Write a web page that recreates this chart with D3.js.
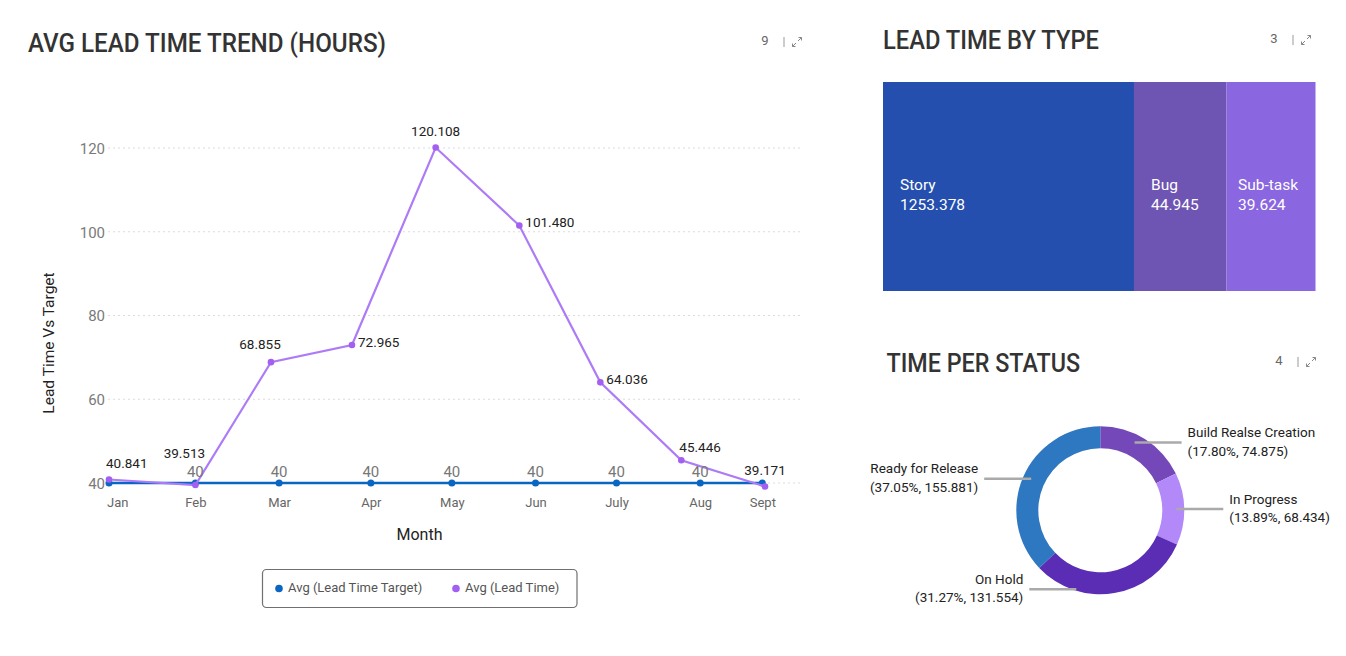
<!DOCTYPE html>
<html><head><meta charset="utf-8">
<script src="https://cdn.jsdelivr.net/npm/d3@7"></script>
<style>
html,body{margin:0;padding:0;background:#fff;}
svg{display:block;font-family:Roboto,"Noto Sans",sans-serif;}
</style></head>
<body>
<svg id="c" width="1346" height="656"></svg>
<script>
// ---------- DATA ----------
const months = ["Jan","Feb","Mar","Apr","May","Jun","July","Aug","Sept"];
const leadDates = ["2023-01-01","2023-02-02","2023-03-02","2023-04-01","2023-05-02","2023-06-02","2023-07-02","2023-08-01","2023-09-01"];
const targetDates = ["2023-01-01","2023-02-02","2023-03-05","2023-04-08","2023-05-08","2023-06-08","2023-07-08","2023-08-08","2023-08-31"];
const leadTime = [40.841,39.513,68.855,72.965,120.108,101.480,64.036,45.446,39.171];
const leadTimeTarget = [40,40,40,40,40,40,40,40,40];
const yTicks = [40,60,80,100,120];
const leadLabelPlace = ["top","topLeftHigh","topLeft","right","top","right","right","topRight","top"];
const targetLabelShown = [false,true,true,true,true,true,true,true,false];

const typeNames = ["Story","Bug","Sub-task"];
const typeValues = [1253.378,44.945,39.624];

const statusNames = ["Build Realse Creation","In Progress","On Hold","Ready for Release"];
const statusPct = [17.80,13.89,31.27,37.05];
const statusValues = [74.875,68.434,131.554,155.881];

// ---------- SETUP ----------
const svg = d3.select("#c");
const parse = d3.timeParse("%Y-%m-%d");
const C = {blue:"#0a66c2", purple:"#ad7bf7", purpleDot:"#a35ff2", grid:"#dcdcdc"};

function title(x, y, text, len){
  svg.append("text").attr("x",x).attr("y",y).text(text)
    .attr("font-size",25).attr("font-weight",500).attr("fill","#333")
    .attr("textLength",len).attr("lengthAdjust","spacingAndGlyphs");
}
function badge(x, y, n){
  svg.append("text").attr("x",x).attr("y",y).attr("dominant-baseline","middle")
    .attr("text-anchor","middle").attr("font-size",13).attr("fill","#666").text(n);
  svg.append("line").attr("x1",x+19).attr("x2",x+19).attr("y1",y-5).attr("y2",y+5)
    .attr("stroke","#999").attr("stroke-width",1);
  const ax = x+32, g = svg.append("g").attr("stroke","#888").attr("stroke-width",1).attr("fill","none");
  g.append("path").attr("d",`M${ax-4.5},${y+4.5}L${ax-1},${y+1}M${ax+1},${y-1}L${ax+4.5},${y-4.5}`);
  g.append("path").attr("d",`M${ax+1.5},${y-4.5}H${ax+4.5}V${y-1.5}M${ax-4.5},${y+1.5}V${y+4.5}H${ax-1.5}`);
}

// ---------- LEFT: LINE CHART ----------
title(28, 51.5, "AVG LEAD TIME TREND (HOURS)", 358);
badge(765, 42, "9");

const x = d3.scaleTime().domain([parse("2023-01-01"), parse("2023-09-01")]).range([109, 765]);
const y = d3.scaleLinear().domain([40,120]).range([483,148]);
const plotL = 108, plotR = 802;

svg.append("g").selectAll("line").data(yTicks).join("line")
  .attr("x1",plotL).attr("x2",plotR).attr("y1",d=>y(d)).attr("y2",d=>y(d))
  .attr("stroke",C.grid).attr("stroke-width",1).attr("stroke-dasharray","2,3");
const yAxis = d3.axisLeft(y).tickValues(yTicks).tickSize(0).tickPadding(0);
const yg = svg.append("g").attr("transform",`translate(105,0)`).call(yAxis);
yg.select(".domain").remove();
yg.selectAll("text").attr("font-size",15).attr("fill","#7a7a7a").attr("font-family","Roboto").attr("dy","0.35em");

const tDates = targetDates.map(parse), lDates = leadDates.map(parse);
const xAxis = d3.axisBottom(x).tickValues(tDates).tickFormat((d,i)=>months[i]).tickSize(0).tickPadding(0);
const xg = svg.append("g").attr("transform","translate(0,502)").call(xAxis);
xg.select(".domain").remove();
xg.selectAll("text").attr("font-size",13).attr("fill","#666").attr("font-family","Roboto").attr("dy","0.35em")
  .each(function(){
    const w = this.getComputedTextLength();
    const tr = d3.select(this.parentNode).attr("transform");
    const px = +tr.match(/translate\(([-\d.]+)/)[1];
    if (px - w/2 < 107) d3.select(this).attr("dx", (107 - (px - w/2)));
  });

svg.append("text").attr("transform","translate(50,343) rotate(-90)").attr("text-anchor","middle")
  .attr("dominant-baseline","middle").attr("font-size",15.5).attr("fill","#222").text("Lead Time Vs Target");
svg.append("text").attr("x",419.5).attr("y",536).attr("text-anchor","middle")
  .attr("dominant-baseline","middle").attr("font-size",16).attr("fill","#222").text("Month");

const tgtData = tDates.map((d,i)=>({d, v:leadTimeTarget[i], i}));
const ldData = lDates.map((d,i)=>({d, v:leadTime[i], i}));
const line = d3.line().x(p=>x(p.d)).y(p=>y(p.v));

svg.append("path").datum(tgtData).attr("d",line).attr("fill","none")
  .attr("stroke",C.blue).attr("stroke-width",2.6);
svg.append("g").selectAll("circle").data(tgtData).join("circle")
  .attr("cx",p=>x(p.d)).attr("cy",p=>y(p.v)).attr("r",3.5).attr("fill",C.blue);

svg.append("path").datum(ldData).attr("d",line).attr("fill","none")
  .attr("stroke",C.purple).attr("stroke-width",2.2);
svg.append("g").selectAll("circle").data(ldData).join("circle")
  .attr("cx",p=>x(p.d)).attr("cy",p=>y(p.v)).attr("r",3.3).attr("fill",C.purpleDot);

svg.append("g").selectAll("text").data(tgtData.filter(p=>targetLabelShown[p.i])).join("text")
  .attr("x",p=>x(p.d)).attr("y",p=>y(p.v)-10).attr("text-anchor","middle").attr("dominant-baseline","middle")
  .attr("font-size",15).attr("fill","#777").text(p=>p.v);

const place = {
  top:{a:"middle",dx:0,dy:-15},
  topLeft:{a:"middle",dx:-11,dy:-17},
  topLeftHigh:{a:"middle",dx:-11,dy:-31},
  right:{a:"start",dx:6,dy:-2},
  topRight:{a:"start",dx:-2,dy:-12}
};
const fmt = d3.format(".3f");
svg.append("g").selectAll("text").data(ldData).join("text")
  .attr("x",p=>x(p.d)+place[leadLabelPlace[p.i]].dx)
  .attr("y",p=>y(p.v)+place[leadLabelPlace[p.i]].dy)
  .attr("text-anchor",p=>place[leadLabelPlace[p.i]].a)
  .attr("dominant-baseline","middle").attr("font-size",13.5).attr("fill","#222")
  .text(p=>fmt(p.v))
  .each(function(p){
    const w = this.getComputedTextLength();
    const cx = +d3.select(this).attr("x");
    if (place[leadLabelPlace[p.i]].a==="middle" && cx - w/2 < 106) d3.select(this).attr("x", 106 + w/2);
  });

const lg = svg.append("g");
lg.append("rect").attr("x",262.5).attr("y",569.5).attr("width",314.5).attr("height",38).attr("rx",4)
  .attr("fill","#fff").attr("stroke","#707070").attr("stroke-width",1.2);
const legendItems = [{n:"Avg (Lead Time Target)",c:C.blue,x:279},{n:"Avg (Lead Time)",c:C.purpleDot,x:456}];
legendItems.forEach(it=>{
  lg.append("circle").attr("cx",it.x).attr("cy",588.5).attr("r",3.8).attr("fill",it.c);
  lg.append("text").attr("x",it.x+9).attr("y",588.5).attr("dominant-baseline","middle")
    .attr("font-size",13).attr("fill","#555").text(it.n);
});

// ---------- RIGHT TOP: TREEMAP ----------
title(883, 49, "LEAD TIME BY TYPE", 216);
badge(1274, 40, "3");

const root = d3.hierarchy({children: typeNames.map((n,i)=>({name:n, value:typeValues[i], i}))})
  .sum(d=>d.value ? Math.pow(d.value, 0.3) : 0);
d3.treemap().tile(d3.treemapDice).size([432.5, 209]).paddingInner(0)(root);
const typeColors = ["#254fae","#6f55b3","#8a66e0"];
const tm = svg.append("g").attr("transform","translate(883,82)");
const cells = tm.selectAll("g").data(root.leaves()).join("g").attr("transform",d=>`translate(${d.x0},${d.y0})`);
cells.append("rect").attr("width",d=>d.x1-d.x0).attr("height",d=>d.y1-d.y0).attr("fill",d=>typeColors[d.data.i]);
cells.each(function(d){
  const g = d3.select(this), w = d.x1-d.x0, h = d.y1-d.y0;
  const t1 = g.append("text").attr("y",h/2-1).attr("dominant-baseline","middle")
    .attr("font-size",15.5).attr("fill","#fff").text(d.data.name);
  const t2 = g.append("text").attr("y",h/2+19).attr("dominant-baseline","middle")
    .attr("font-size",15.5).attr("fill","#fff").text(fmt(d.data.value));
  const tw = Math.max(t1.node().getComputedTextLength(), t2.node().getComputedTextLength());
  const px = Math.min(17, (w - tw)/2 - 3);
  t1.attr("x",px); t2.attr("x",px);
});

// ---------- RIGHT BOTTOM: DONUT ----------
title(886.5, 371.5, "TIME PER STATUS", 193.5);
badge(1279, 362, "4");

const cx = 1100.3, cy = 510.3, rOut = 84, rIn = 62;
const statusColors = ["#7448b8","#b388f9","#5b2db4","#2e77c1"];
const pie = d3.pie().sort(null).value(d=>d.pct)(statusNames.map((n,i)=>({n,pct:statusPct[i],v:statusValues[i],i})));
const arc = d3.arc().innerRadius(rIn).outerRadius(rOut);
const dg = svg.append("g").attr("transform",`translate(${cx},${cy})`);
dg.selectAll("path").data(pie).join("path").attr("d",arc).attr("fill",d=>statusColors[d.data.i]);

const lbl = svg.append("g");
pie.forEach(d=>{
  const mid = (d.startAngle+d.endAngle)/2;
  const side = Math.sin(mid) > 0.3 ? 1 : -1;
  const ly = cy - 80*Math.cos(mid);
  const dy = ly - cy;
  const xin = cx + side*Math.sqrt(Math.max(24*24, 76*76 - dy*dy));
  const xout = xin + side*47;
  lbl.append("line").attr("x1",xin).attr("x2",xout).attr("y1",ly).attr("y2",ly)
    .attr("stroke","#aaa").attr("stroke-width",2.5);
  const tx = xout + side*6, anchor = side>0 ? "start" : "end";
  lbl.append("text").attr("x",tx).attr("y",ly-9).attr("text-anchor",anchor).attr("dominant-baseline","middle")
    .attr("font-size",13.5).attr("fill","#222").text(d.data.n);
  lbl.append("text").attr("x",tx).attr("y",ly+9.5).attr("text-anchor",anchor).attr("dominant-baseline","middle")
    .attr("font-size",13.5).attr("fill","#222").text(`(${d.data.pct.toFixed(2)}%, ${fmt(d.data.v)})`);
});
</script>
</body></html>
